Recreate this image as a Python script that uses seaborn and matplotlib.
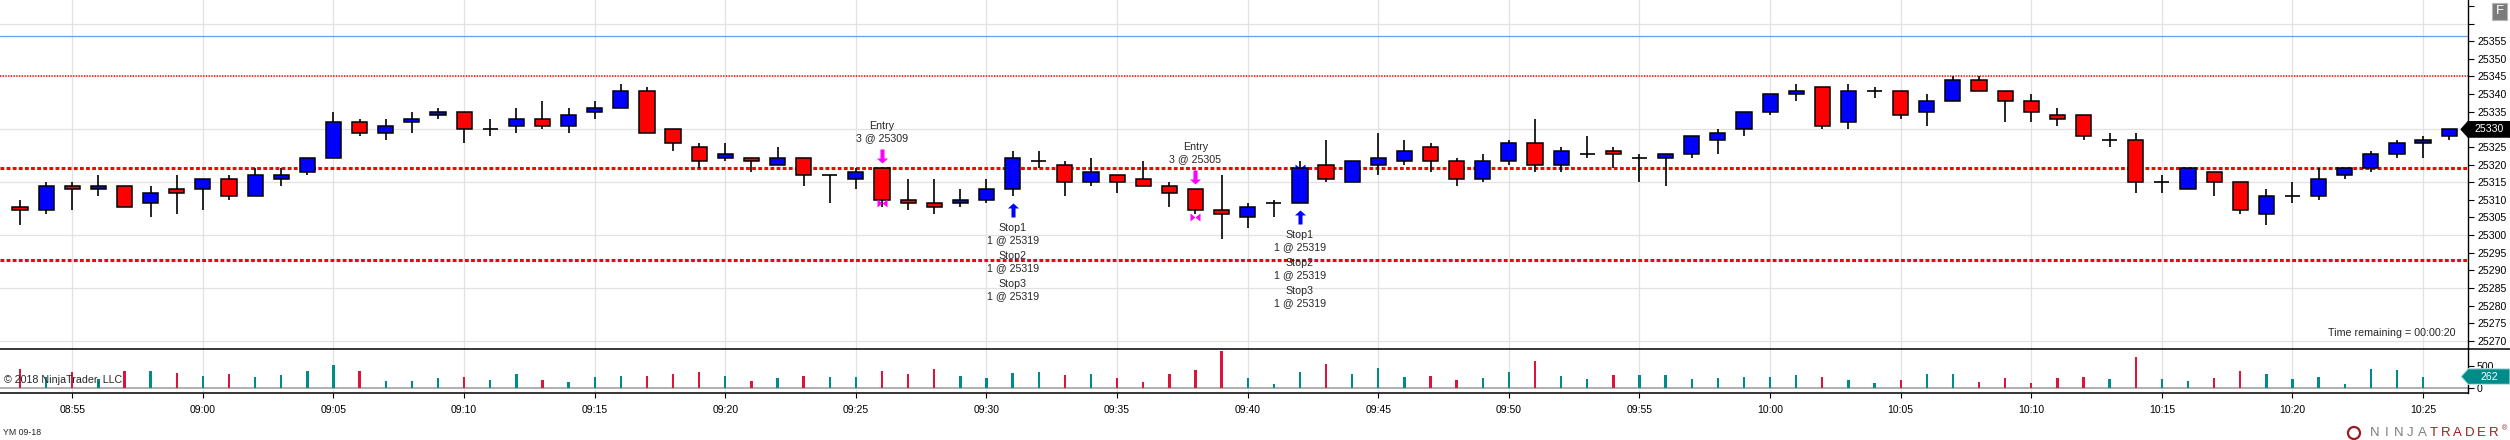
import numpy as np
import pandas as pd
import matplotlib
matplotlib.use("Agg")
import matplotlib.pyplot as plt
import seaborn as sns
from matplotlib.path import Path
from matplotlib.patches import Polygon, Rectangle, Ellipse
from matplotlib.lines import Line2D
from matplotlib.transforms import offset_copy

# ---------------- data ----------------
bar_times = [
    "08:53", "08:54", "08:55", "08:56", "08:57", "08:58", "08:59", "09:00", "09:01", "09:02",
    "09:03", "09:04", "09:05", "09:06", "09:07", "09:08", "09:09", "09:10", "09:11", "09:12",
    "09:13", "09:14", "09:15", "09:16", "09:17", "09:18", "09:19", "09:20", "09:21", "09:22",
    "09:23", "09:24", "09:25", "09:26", "09:27", "09:28", "09:29", "09:30", "09:31", "09:32",
    "09:33", "09:34", "09:35", "09:36", "09:37", "09:38", "09:39", "09:40", "09:41", "09:42",
    "09:43", "09:44", "09:45", "09:46", "09:47", "09:48", "09:49", "09:50", "09:51", "09:52",
    "09:53", "09:54", "09:55", "09:56", "09:57", "09:58", "09:59", "10:00", "10:01", "10:02",
    "10:03", "10:04", "10:05", "10:06", "10:07", "10:08", "10:09", "10:10", "10:11", "10:12",
    "10:13", "10:14", "10:15", "10:16", "10:17", "10:18", "10:19", "10:20", "10:21", "10:22",
    "10:23", "10:24", "10:25", "10:26",
]
opens = [
    25308, 25307, 25314, 25313, 25314, 25309, 25313, 25313, 25316, 25311,
    25316, 25318, 25322, 25332, 25329, 25332, 25334, 25335, 25330, 25331,
    25333, 25331, 25335, 25336, 25341, 25330, 25325, 25322, 25322, 25320,
    25322, 25317, 25316, 25319, 25310, 25309, 25309, 25310, 25313, 25321,
    25320, 25315, 25317, 25316, 25314, 25313, 25307, 25305, 25309, 25309,
    25320, 25315, 25320, 25321, 25325, 25321, 25316, 25321, 25326, 25320,
    25323, 25324, 25322, 25322, 25323, 25327, 25330, 25335, 25340, 25342,
    25332, 25341, 25341, 25335, 25338, 25344, 25341, 25338, 25334, 25334,
    25327, 25327, 25315, 25313, 25318, 25315, 25306, 25311, 25311, 25317,
    25319, 25323, 25326, 25328,
]
highs = [
    25310, 25315, 25315, 25317, 25314, 25314, 25317, 25316, 25317, 25319,
    25319, 25322, 25335, 25333, 25333, 25335, 25336, 25335, 25333, 25336,
    25338, 25336, 25338, 25343, 25342, 25330, 25326, 25326, 25322, 25325,
    25322, 25317, 25319, 25319, 25316, 25316, 25313, 25316, 25324, 25324,
    25321, 25322, 25317, 25321, 25315, 25313, 25317, 25309, 25310, 25321,
    25327, 25321, 25329, 25327, 25326, 25322, 25323, 25327, 25333, 25325,
    25328, 25325, 25323, 25323, 25328, 25330, 25335, 25340, 25343, 25342,
    25343, 25342, 25341, 25340, 25345, 25345, 25341, 25340, 25336, 25334,
    25329, 25329, 25317, 25319, 25318, 25315, 25313, 25315, 25319, 25319,
    25324, 25327, 25328, 25330,
]
lows = [
    25303, 25306, 25307, 25311, 25308, 25305, 25306, 25307, 25310, 25311,
    25314, 25317, 25322, 25328, 25327, 25329, 25333, 25326, 25328, 25329,
    25330, 25329, 25333, 25336, 25329, 25324, 25319, 25321, 25318, 25320,
    25314, 25309, 25313, 25308, 25307, 25306, 25308, 25309, 25311, 25319,
    25311, 25314, 25312, 25314, 25308, 25306, 25299, 25302, 25305, 25309,
    25315, 25315, 25317, 25320, 25318, 25314, 25315, 25320, 25318, 25318,
    25322, 25319, 25315, 25314, 25322, 25323, 25328, 25334, 25338, 25330,
    25330, 25339, 25333, 25331, 25338, 25341, 25332, 25332, 25331, 25327,
    25325, 25312, 25312, 25313, 25311, 25306, 25303, 25309, 25310, 25316,
    25318, 25322, 25322, 25327,
]
closes = [
    25307, 25314, 25313, 25314, 25308, 25312, 25312, 25316, 25311, 25317,
    25317, 25322, 25332, 25329, 25331, 25333, 25335, 25330, 25330, 25333,
    25331, 25334, 25336, 25341, 25329, 25326, 25321, 25323, 25321, 25322,
    25317, 25317, 25318, 25310, 25309, 25308, 25310, 25313, 25322, 25321,
    25315, 25318, 25315, 25314, 25312, 25307, 25306, 25308, 25309, 25319,
    25316, 25321, 25322, 25324, 25321, 25316, 25321, 25326, 25320, 25324,
    25323, 25323, 25322, 25323, 25328, 25329, 25335, 25340, 25341, 25331,
    25341, 25341, 25334, 25338, 25344, 25341, 25338, 25335, 25333, 25328,
    25327, 25315, 25315, 25319, 25315, 25307, 25311, 25311, 25316, 25319,
    25323, 25326, 25327, 25330,
]
volumes = [
    448, 240, 368, 200, 400, 400, 352, 280, 328, 256,
    304, 400, 544, 400, 160, 160, 232, 256, 184, 328,
    184, 136, 256, 280, 280, 328, 376, 280, 160, 232,
    280, 256, 256, 400, 328, 448, 280, 232, 352, 376,
    304, 328, 232, 136, 328, 424, 856, 232, 88, 376,
    568, 328, 472, 256, 280, 184, 232, 376, 616, 280,
    208, 304, 304, 304, 208, 232, 256, 256, 304, 256,
    184, 112, 184, 328, 328, 136, 232, 112, 232, 256,
    208, 712, 208, 160, 232, 400, 328, 208, 256, 88,
    448, 424, 262,
]
time_tick_labels = ["08:55", "09:00", "09:05", "09:10", "09:15", "09:20", "09:25", "09:30",
                    "09:35", "09:40", "09:45", "09:50", "09:55", "10:00", "10:05", "10:10",
                    "10:15", "10:20", "10:25"]
price_ticks = [25270, 25275, 25280, 25285, 25290, 25295, 25300, 25305, 25310, 25315,
               25320, 25325, 25330, 25335, 25340, 25345, 25350, 25355, 25360, 25365]
price_tick_labels = ["25270", "25275", "25280", "25285", "25290", "25295", "25300", "25305",
                     "25310", "25315", "25320", "25325", "25330", "25335", "25340", "25345",
                     "25350", "25355", "", ""]
price_grid = [25270, 25285, 25300, 25315, 25330, 25345, 25360]
volume_ticks = [0, 500]
volume_tick_labels = ["0", "500"]

blue_level = 25356.5
target_level = 25345
stop_level = 25319
lower_level = 25293

entry_bars = [33, 45]
entry_qty = [3, 3]
entry_price = [25309, 25305]
stop_bars = [38, 49]
stop_names = ["Stop1", "Stop2", "Stop3"]
stop_qty = [1, 1, 1]
stop_price = 25319
time_remaining = "00:00:20"

# ---------------- style ----------------
sns.set_style("white")
plt.rcParams["font.family"] = ["Liberation Sans", "DejaVu Sans"]
plt.rcParams["axes.edgecolor"] = "black"

W, H = 2510, 440
fig = plt.figure(figsize=(W / 100, H / 100), dpi=100)
fig.patch.set_facecolor("white")

def fy(y_img):
    return 1 - y_img / H

ax = fig.add_axes([0, fy(349.3), 2468 / W, 349.3 / H])
axv = fig.add_axes([0, fy(392.7), 2468 / W, 43.4 / H])

o = np.array(opens, float)
hgh = np.array(highs, float)
lw_ = np.array(lows, float)
c = np.array(closes, float)
x = np.arange(len(o))
up = c >= o
doji = c == o

xlim = (-0.768, 93.72)
grid_col = "#e2e2e2"

# ---------------- price pane ----------------
ax.set_xlim(*xlim)
ax.set_ylim(25267.6, 25366.7)
tick_idx = [bar_times.index(t) for t in time_tick_labels]
for t in tick_idx:
    ax.axvline(t, color=grid_col, lw=0.9, zorder=0)
for g in price_grid:
    ax.axhline(g, color=grid_col, lw=0.9, zorder=0)

ax.axhline(blue_level, color="#6f9cf0", lw=0.9, zorder=1)
ax.axhline(target_level, color="#ff1a1a", lw=1.3, ls=(0, (0.7, 0.8)), zorder=1)
ax.axhline(stop_level, color="#ff0000", lw=2.2, ls=(0, (1.25, 0.75)), zorder=1)
ax.axhline(lower_level, color="#ff0000", lw=2.2, ls=(0, (1.25, 0.75)), zorder=1)

bw = 0.58
ax.vlines(x, lw_, hgh, color="black", lw=1.2, zorder=3)
nd = ~doji
ax.bar(x[nd], np.abs(c - o)[nd], bottom=np.minimum(o, c)[nd], width=bw,
       color=np.where(up[nd], "#0000ff", "#ff0000"), edgecolor="black",
       linewidth=1.1, zorder=4)
ax.hlines(o[doji], x[doji] - bw / 2, x[doji] + bw / 2, color="black", lw=1.2, zorder=4)

# markers
down_arrow = Path([(0, -1), (-0.79, -0.29), (-0.29, -0.29), (-0.29, 1), (0.29, 1),
                   (0.29, -0.29), (0.79, -0.29), (0, -1)])
up_arrow = Path([(0, 1), (-0.79, 0.29), (-0.29, 0.29), (-0.29, -1), (0.29, -1),
                 (0.29, 0.29), (0.79, 0.29), (0, 1)])
bowtie = Path([(-1, 0.8), (0, 0), (-1, -0.8), (-1, 0.8), (1, 0.8), (0, 0), (1, -0.8), (1, 0.8)],
              [Path.MOVETO, Path.LINETO, Path.LINETO, Path.CLOSEPOLY,
               Path.MOVETO, Path.LINETO, Path.LINETO, Path.CLOSEPOLY])

def off(dy):
    return offset_copy(ax.transData, fig=fig, x=0, y=dy, units="dots")

fs = 7.7
for b, q, p in zip(entry_bars, entry_qty, entry_price):
    ax.plot([b], [hgh[b]], marker=down_arrow, ms=10.1, color="#ff00ff", mew=0,
            transform=off(12), zorder=6, clip_on=False)
    ax.text(b, hgh[b], "Entry", transform=off(42), ha="center", va="center", fontsize=fs)
    ax.text(b, hgh[b], f"{q} @ {p}", transform=off(30), ha="center", va="center", fontsize=fs)
    ax.plot([b], [p], marker=bowtie, ms=7.2, color="#ff00ff", mew=0, zorder=5)

for b in stop_bars:
    ax.plot([b], [stop_price], marker=bowtie, ms=7.2, color="#0000ff", mew=0, zorder=2)
    ax.plot([b], [lw_[b]], marker=up_arrow, ms=10.1, color="#0000ff", mew=0,
            transform=off(-14), zorder=6)
    for j, (nm, q) in enumerate(zip(stop_names, stop_qty)):
        ax.text(b, lw_[b], nm, transform=off(-(31.7 + 28 * j)), ha="center", va="center", fontsize=fs)
        ax.text(b, lw_[b], f"{q} @ {stop_price}", transform=off(-(43.7 + 28 * j)),
                ha="center", va="center", fontsize=fs)

ax.text(2455 / 2468, (349.3 - 333.3) / 349.3, f"Time remaining = {time_remaining}",
        transform=ax.transAxes, ha="right", va="center", fontsize=fs)

ax.yaxis.tick_right()
ax.set_yticks(price_ticks)
ax.set_yticklabels(price_tick_labels)
ax.set_xticks([])
ax.tick_params(axis="y", direction="out", length=4, width=0.8, pad=2.5,
               labelsize=7.6, colors="black", right=True, left=False)
for s in ["left", "top", "bottom"]:
    ax.spines[s].set_visible(False)
ax.spines["right"].set_linewidth(1.0)
ax.spines["right"].set_color("black")
ax.grid(False)

# ---------------- volume pane ----------------
nv = len(volumes)
vol_df = pd.DataFrame({"bar": x[:nv], "volume": volumes,
                       "dir": np.where(up[:nv], "up", "down")})
sns.barplot(data=vol_df, x="bar", y="volume", hue="dir",
            palette={"up": "#008b8b", "down": "#dc143c"}, native_scale=True,
            dodge=False, width=0.09, saturation=1, errorbar=None, legend=False,
            linewidth=0, ax=axv, zorder=3)
axv.set_xlim(*xlim)
axv.set_ylim(-117.6, 902.4)
for t in tick_idx:
    axv.axvline(t, color=grid_col, lw=0.9, zorder=0)
axv.axhline(0, color="#a9a9a9", lw=1.3, zorder=2)
axv.set_xlabel("")
axv.set_ylabel("")
axv.set_xticks(tick_idx)
axv.set_xticklabels(time_tick_labels)
axv.yaxis.tick_right()
axv.set_yticks(volume_ticks)
axv.set_yticklabels(volume_tick_labels)
axv.tick_params(axis="x", direction="out", length=3.5, width=0.8, pad=5,
                labelsize=7.5, colors="black", bottom=True)
axv.tick_params(axis="y", direction="out", length=4, width=0.8, pad=2.5,
                labelsize=7.6, colors="black", right=True, left=False)
axv.spines["left"].set_visible(False)
axv.spines["top"].set_visible(False)
axv.spines["right"].set_linewidth(1.0)
axv.spines["bottom"].set_linewidth(1.1)
axv.grid(False)

# pane separator across the full width
fig.add_artist(Line2D([0, 1], [fy(349.3), fy(349.3)], transform=fig.transFigure,
                      color="black", lw=1.1))

# ---------------- value markers ----------------
def marker_box(yc_disp, face, text, edge):
    verts = [(2461, yc_disp), (2468, yc_disp + 7.8), (2510, yc_disp + 7.8),
             (2510, yc_disp - 7.8), (2468, yc_disp - 7.8)]
    verts = [(vx / W, vy / H) for vx, vy in verts]
    fig.add_artist(Polygon(verts, closed=True, transform=fig.transFigure,
                           facecolor=face, edgecolor=edge, lw=0.8, zorder=10))
    fig.text(2489 / W, yc_disp / H, text, color="white", ha="center", va="center",
             fontsize=7.6, zorder=11)

yc_price = ax.transData.transform((0, closes[-1]))[1]
marker_box(yc_price, "black", f"{closes[-1]}", "black")
yc_vol = axv.transData.transform((0, volumes[-1]))[1]
marker_box(yc_vol, "#008b8b", f"{volumes[-1]}", "#bfe6e3")

# "F" button
fig.add_artist(Rectangle((2491.7 / W, fy(20)), 15.6 / W, 17.3 / H, transform=fig.transFigure,
                         facecolor="#7b7b7b", edgecolor="#b5b5b5", lw=0.8, zorder=10))
fig.text(2499.5 / W, fy(11.3), "F", color="white", ha="center", va="center",
         fontsize=9.5, zorder=11)

# ---------------- footer texts ----------------
fig.text(4 / W, fy(380), "© 2018 NinjaTrader, LLC", ha="left", va="center", fontsize=7.7)
fig.text(3 / W, fy(432.5), "YM 09-18", ha="left", va="center", fontsize=6.3)

fig.add_artist(Ellipse((2354 / W, fy(433)), 12 / W, 12 / H, transform=fig.transFigure,
                       facecolor="none", edgecolor="#9c1b1f", lw=1.6))
logo = "NINJATRADER"
for i, ch in enumerate(logo):
    col = "#7f7f7f" if i < 5 else "#a01c20"
    fig.text((2374.6 + 11.9 * i) / W, fy(433), ch, color=col, ha="center", va="center",
             fontsize=9.5)
fig.text(2505 / W, fy(429), "®", color="#a01c20", ha="center", va="center", fontsize=5)

fig.savefig("out.png", dpi=100)
